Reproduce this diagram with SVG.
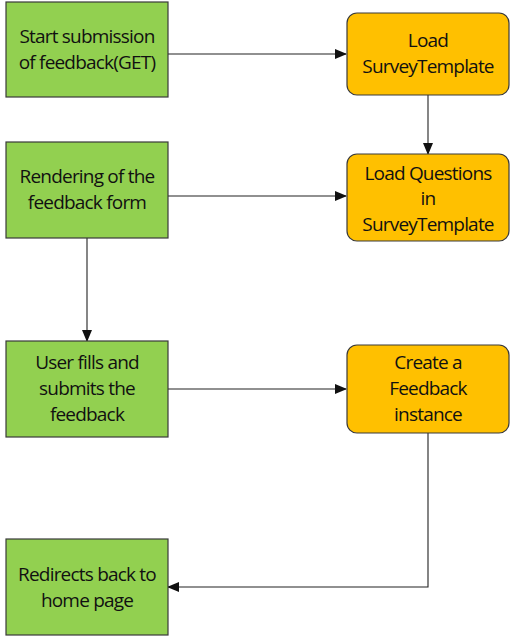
<svg xmlns="http://www.w3.org/2000/svg" width="515" height="638" viewBox="0 0 515 638">
<style>
.g{fill:#92D050;stroke:#3a3a3a;stroke-width:1.2}
.o{fill:#FFC000;stroke:#3a3a3a;stroke-width:1.2}
text{font-family:"Open Sans","DejaVu Sans",sans-serif;font-size:19px;fill:#111;text-anchor:middle;letter-spacing:-0.8px}
.c{fill:none;stroke:#222;stroke-width:1.1}
</style>
<defs>
<marker id="ah" markerWidth="12" markerHeight="10" refX="11" refY="5" orient="auto" markerUnits="userSpaceOnUse">
<path d="M0,0 L12,5 L0,10 Z" fill="#111"/>
</marker>
</defs>
<rect width="515" height="638" fill="#fff"/>
<g id="connectors">
<path class="c" d="M168,54 H346" marker-end="url(#ah)"/>
<path class="c" d="M428,95 V154" marker-end="url(#ah)"/>
<path class="c" d="M168,196 H346" marker-end="url(#ah)"/>
<path class="c" d="M87,238 V341" marker-end="url(#ah)"/>
<path class="c" d="M168,389 H346" marker-end="url(#ah)"/>
<path class="c" d="M428,433 V587 H168" marker-end="url(#ah)"/>
</g>
<g id="n1"><rect class="g" x="6" y="2" width="162" height="95"/><text x="87" y="43">Start submission</text><text x="87" y="69">of feedback(GET)</text></g>
<g id="n2"><rect class="g" x="6" y="142" width="162" height="96"/><text x="87" y="183">Rendering of the</text><text x="87" y="209">feedback form</text></g>
<g id="n3"><rect class="g" x="6" y="341" width="162" height="96"/><text x="87" y="369">User fills and</text><text x="87" y="395">submits the</text><text x="87" y="421">feedback</text></g>
<g id="n4"><rect class="g" x="6" y="539" width="162" height="96"/><text x="87" y="581">Redirects back to</text><text x="87" y="607">home page</text></g>
<g id="o1"><rect class="o" x="347" y="13" width="162" height="82" rx="10"/><text x="428" y="47">Load</text><text x="428" y="73">SurveyTemplate</text></g>
<g id="o2"><rect class="o" x="347" y="154" width="162" height="87" rx="10"/><text x="428" y="180">Load Questions</text><text x="428" y="205">in</text><text x="428" y="231">SurveyTemplate</text></g>
<g id="o3"><rect class="o" x="347" y="345" width="162" height="88" rx="10"/><text x="428" y="369">Create a</text><text x="428" y="395">Feedback</text><text x="428" y="421">instance</text></g>
</svg>
